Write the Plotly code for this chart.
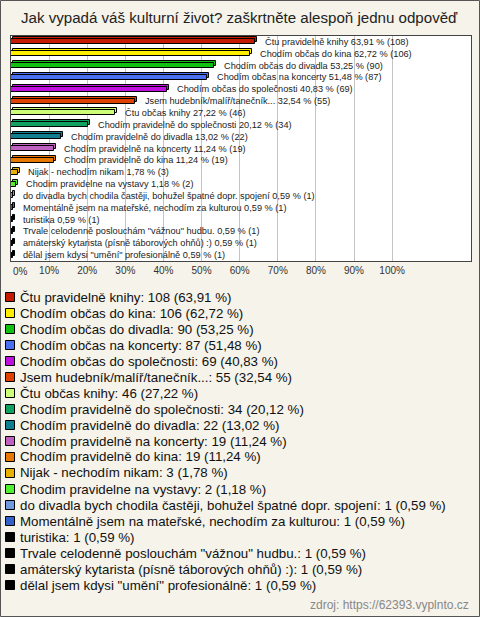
import plotly.graph_objects as go

# ---------------- data ----------------
plot_labels = [
    "Čtu pravidelně knihy",
    "Chodím občas do kina",
    "Chodím občas do divadla",
    "Chodím občas na koncerty",
    "Chodím občas do společnosti",
    "Jsem hudebník/malíř/tanečník...",
    "Čtu občas knihy",
    "Chodím pravidelně do společnosti",
    "Chodím pravidelně do divadla",
    "Chodím pravidelně na koncerty",
    "Chodím pravidelně do kina",
    "Nijak - nechodím nikam",
    "Chodim pravidelne na vystavy",
    "do divadla bych chodila častěji, bohužel špatné dopr. spojení",
    "Momentálně jsem na mateřské, nechodím za kulturou",
    "turistika",
    "Trvale celodenně poslouchám \"vážnou\" hudbu.",
    "amáterský kytarista (písně táborových ohňů) :)",
    "dělal jsem kdysi \"umění\" profesionálně",
]
counts = [108, 106, 90, 87, 69, 55, 46, 34, 22, 19, 19, 3, 2, 1, 1, 1, 1, 1, 1]
percents = [63.91, 62.72, 53.25, 51.48, 40.83, 32.54, 27.22, 20.12, 13.02, 11.24,
            11.24, 1.78, 1.18, 0.59, 0.59, 0.59, 0.59, 0.59, 0.59]
colors = ["#c41a00", "#ffee00", "#12c012", "#4a70f0", "#c010e0", "#e04000",
          "#ccff77", "#10a060", "#108090", "#c060c0", "#e87800", "#e8b000",
          "#50f030", "#6f9ae0", "#3060c8", "#000000", "#000000", "#000000", "#000000"]
tick_values = [10, 20, 30, 40, 50, 60, 70, 80, 90, 100]
tick_labels = ["10%", "20%", "30%", "40%", "50%", "60%", "70%", "80%", "90%", "100%"]
zero_label = "0%"
title_text = "Jak vypadá váš kulturní život? zaškrtněte alespoň jednu odpověď"
source_text = "zdroj: https://62393.vyplnto.cz"

# ---------------- layout geometry ----------------
W, H = 480, 617
L, R, T, B = 11, 9, 36, 356
PW, PH = W - L - R, H - T - B
FONT = "Liberation Sans, Arial, sans-serif"
BG = "#f5f3ea"


def px_x(px):
    return (px - L) / PW


def px_y(py):
    return (H - B - py) / PH


def fmt(v):
    return f"{v:.2f}".replace(".", ",")


n = len(counts)
cats = list(range(n))
bw = 0.42            # bar thickness in category units
depth_y = 0.17       # 3D depth (vertical) in category units
depth_x = 0.53       # 3D depth (horizontal) in percent units
xmax = 120.7

fig = go.Figure()
# back (depth) faces
fig.add_trace(go.Bar(
    x=percents, y=cats, orientation="h", base=depth_x,
    width=bw, offset=-bw / 2 - depth_y,
    marker=dict(color=colors, line=dict(color="#000000", width=1)),
    hoverinfo="skip", showlegend=False))
# front faces
fig.add_trace(go.Bar(
    x=percents, y=cats, orientation="h",
    width=bw, offset=-bw / 2,
    marker=dict(color=colors, line=dict(color="#000000", width=1)),
    showlegend=False))

annotations = []
for i, (lab, c, p) in enumerate(zip(plot_labels, counts, percents)):
    annotations.append(dict(
        x=p, y=i, xref="x", yref="y", xanchor="left", yanchor="middle",
        xshift=8, text=f"{lab} {fmt(p)} % ({c})", showarrow=False,
        font=dict(family=FONT, size=9.2, color="#222222")))

# "0%" tick label (placed slightly right of the axis origin, as in the original)
annotations.append(dict(
    x=0, y=px_y(271), xref="x", yref="paper", xanchor="left", yanchor="middle",
    xshift=0, text=zero_label, showarrow=False,
    font=dict(family=FONT, size=10, color="#333333")))

# title
annotations.append(dict(
    x=px_x(239.5), y=px_y(18), xref="paper", yref="paper",
    xanchor="center", yanchor="middle", text=title_text, showarrow=False,
    font=dict(family=FONT, size=15.1, color="#222222")))

# custom legend below the chart
shapes = []
leg_top = 297
leg_step = 16
for i, (lab, c, p) in enumerate(zip(plot_labels, counts, percents)):
    cy = leg_top + i * leg_step
    annotations.append(dict(
        x=px_x(18), y=px_y(cy), xref="paper", yref="paper",
        xanchor="left", yanchor="middle", text=f"{lab}: {c} ({fmt(p)} %)",
        showarrow=False, font=dict(family=FONT, size=13.3, color="#111111")))
    shapes.append(dict(
        type="rect", xref="paper", yref="paper",
        x0=px_x(5.5), x1=px_x(14.5), y0=px_y(cy - 4.5), y1=px_y(cy + 4.5),
        fillcolor=colors[i], line=dict(color="#000000", width=1)))

annotations.append(dict(
    x=px_x(471), y=px_y(605), xref="paper", yref="paper",
    xanchor="right", yanchor="middle", text=source_text, showarrow=False,
    font=dict(family=FONT, size=12, color="#888888")))

# outer frame
shapes.append(dict(
    type="rect", xref="paper", yref="paper",
    x0=px_x(0.5), x1=px_x(W - 0.5), y0=px_y(0.5), y1=px_y(H - 0.5),
    line=dict(color="#555555", width=1), fillcolor="rgba(0,0,0,0)", layer="below"))

fig.update_layout(
    width=W, height=H,
    margin=dict(l=L, r=R, t=T, b=B, pad=0),
    paper_bgcolor=BG, plot_bgcolor="#ffffff",
    barmode="overlay", bargap=0,
    showlegend=False,
    annotations=annotations, shapes=shapes,
    font=dict(family=FONT),
    xaxis=dict(range=[0, xmax], tickvals=tick_values, ticktext=tick_labels,
               showgrid=True, gridcolor="#c4c4c4", gridwidth=1, zeroline=False,
               showline=True, mirror=True, linecolor="#444444", linewidth=1,
               ticks="", tickfont=dict(family=FONT, size=10, color="#333333"),
               fixedrange=True),
    yaxis=dict(range=[n - 0.5, -0.5], showticklabels=False, showgrid=False,
               zeroline=False, showline=True, mirror=True,
               linecolor="#444444", linewidth=1, ticks="", fixedrange=True),
)

fig.write_html(
    "out.html",
    config={"displayModeBar": False},
    post_script="document.body.style.margin='0';document.body.style.padding='0';"
                "document.body.style.background='" + BG + "';",
)
